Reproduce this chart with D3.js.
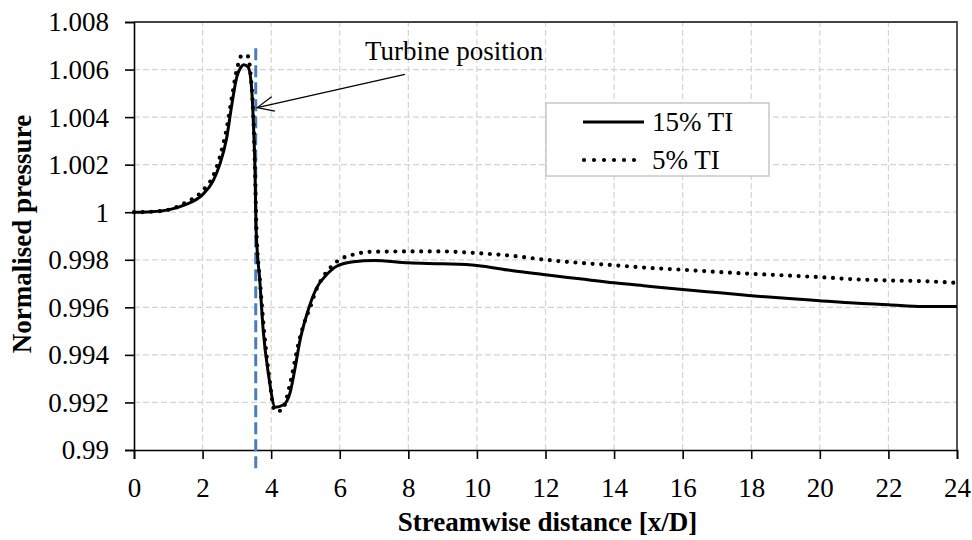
<!DOCTYPE html>
<html>
<head>
<meta charset="utf-8">
<script src="https://cdn.jsdelivr.net/npm/d3@7"></script>
<style>
  html, body { margin: 0; padding: 0; background: #fff; }
  svg { display: block; }
</style>
</head>
<body>
<svg id="chart" width="972" height="540"></svg>
<script>
// Streamwise distance [x/D] and normalised pressure, 15% turbulence intensity
const xTI15 = [0, 0.5, 1.0, 1.5, 2.0, 2.3, 2.5, 2.7, 2.85, 3.0, 3.12, 3.2, 3.33, 3.43, 3.48, 3.53, 3.56,
  3.67, 3.77, 3.92, 4.12, 4.36, 4.55, 4.7, 4.84, 5.04, 5.33, 5.62, 5.91, 6.4, 7, 8, 9, 10, 11, 12,
  13, 14, 15, 16, 17, 18, 19, 20, 21, 22, 23, 24];
const pTI15 = [1.0000, 1.00002, 1.0001, 1.00032, 1.00074, 1.0013, 1.0020, 1.0031, 1.0045, 1.0057, 1.0061,
  1.0062, 1.0061, 1.0052, 1.0038, 1.0017, 0.9993, 0.9971, 0.9950, 0.9932, 0.9918, 0.9919, 0.9924,
  0.99347, 0.9946, 0.9957, 0.99683, 0.99738, 0.99773, 0.99792, 0.99797, 0.99787, 0.99783, 0.99776,
  0.99755, 0.99737, 0.9972, 0.99703, 0.99689, 0.99675, 0.99662, 0.99649, 0.99638, 0.99628, 0.99618,
  0.99611, 0.99603, 0.99603];

// Same quantity, 5% turbulence intensity
const xTI5 = [0, 0.5, 1.0, 1.5, 2.0, 2.3, 2.5, 2.7, 2.85, 3.0, 3.15, 3.3, 3.4, 3.48, 3.53, 3.57, 3.68,
  3.8, 3.95, 4.1, 4.3, 4.55, 4.8, 5.0, 5.14, 5.28, 5.53, 5.72, 6.0, 6.4, 7, 8, 9, 10, 11, 12, 13, 14,
  15, 16, 17, 18, 19, 20, 21, 22, 23, 24];
const pTI5 = [1.0000, 1.00002, 1.0001, 1.0004, 1.0009, 1.0015, 1.0023, 1.0035, 1.0048, 1.0060, 1.0066,
  1.0066, 1.0058, 1.0040, 1.0017, 0.9993, 0.9970, 0.9949, 0.9930, 0.99165, 0.99165, 0.99277, 0.9945,
  0.9955, 0.9960, 0.99661, 0.99731, 0.99766, 0.99801, 0.99822, 0.99834, 0.99835, 0.99835, 0.99828,
  0.99817, 0.998, 0.99787, 0.99777, 0.99766, 0.99758, 0.99749, 0.99741, 0.99734, 0.99727, 0.99718,
  0.99713, 0.9971, 0.99703];

const xTicks = [0, 2, 4, 6, 8, 10, 12, 14, 16, 18, 20, 22, 24];
const yTicks = [0.99, 0.992, 0.994, 0.996, 0.998, 1, 1.002, 1.004, 1.006, 1.008];
const yTickLabels = ["0.99", "0.992", "0.994", "0.996", "0.998", "1", "1.002", "1.004", "1.006", "1.008"];
const seriesNames = ["15% TI", "5% TI"];
const turbineX = 3.55;

const FONT = "'Liberation Serif', 'Times New Roman', 'DejaVu Serif', serif";

const svg = d3.select("#chart");
const margin = { left: 134, right: 15, top: 22, bottom: 90 };
const W = 972, H = 540;

const x = d3.scaleLinear().domain([0, 24]).range([margin.left, W - margin.right]);
const y = d3.scaleLinear().domain([0.99, 1.008]).range([H - margin.bottom, margin.top]);

// gridlines
const grid = svg.append("g").attr("stroke", "#d4d4d4").attr("stroke-width", 1.2)
  .attr("stroke-dasharray", "6,3");
grid.selectAll("line.v").data(xTicks.slice(1, -1)).join("line")
  .attr("x1", d => x(d)).attr("x2", d => x(d)).attr("y1", y(0.99)).attr("y2", y(1.008));
grid.selectAll("line.h").data(yTicks.slice(1, -1)).join("line")
  .attr("x1", x(0)).attr("x2", x(24)).attr("y1", d => y(d)).attr("y2", d => y(d));

// plot frame (top and right)
svg.append("path")
  .attr("d", `M${x(0)},${y(1.008)}H${x(24)}V${y(0.99)}`)
  .attr("fill", "none").attr("stroke", "#444").attr("stroke-width", 1.8);

// axes
const xAxis = svg.append("g").attr("transform", `translate(0,${y(0.99)})`)
  .call(d3.axisBottom(x).tickValues(xTicks).tickSize(9).tickPadding(19).tickFormat(d3.format("d")));
const yAxis = svg.append("g").attr("transform", `translate(${x(0)},0)`)
  .call(d3.axisLeft(y).tickValues(yTicks).tickSize(9).tickPadding(16)
    .tickFormat((d, i) => yTickLabels[i]));
[xAxis, yAxis].forEach(a => {
  a.attr("font-family", FONT).attr("font-size", 27);
  a.select(".domain").attr("stroke", "#000").attr("stroke-width", 1.6);
  a.selectAll(".tick line").attr("stroke", "#000").attr("stroke-width", 1.6);
  a.selectAll(".tick text").attr("fill", "#000");
});
xAxis.selectAll(".tick text").attr("dy", "0.71em");
yAxis.selectAll(".tick text").attr("dy", "0.33em");

// axis titles
svg.append("text").attr("x", (x(0) + x(24)) / 2 + 2).attr("y", 531)
  .attr("text-anchor", "middle").attr("font-family", FONT).attr("font-weight", "bold")
  .attr("font-size", 27).text("Streamwise distance [x/D]");
svg.append("text").attr("transform", `translate(31,${(y(0.99) + y(1.008)) / 2 - 2}) rotate(-90)`)
  .attr("text-anchor", "middle").attr("font-family", FONT).attr("font-weight", "bold")
  .attr("font-size", 27).text("Normalised pressure");

// turbine position marker
svg.append("line")
  .attr("x1", x(turbineX)).attr("x2", x(turbineX))
  .attr("y1", y(1.0069)).attr("y2", y(0.98915))
  .attr("stroke", "#4a7ebb").attr("stroke-width", 3).attr("stroke-dasharray", "12,5");

// curves
const line = d3.line().x(d => x(d[0])).y(d => y(d[1])).curve(d3.curveMonotoneX);
const solidData = xTI15.map((v, i) => [v, pTI15[i]]);
const dotData = xTI5.map((v, i) => [v, pTI5[i]]);

svg.append("path").datum(dotData).attr("d", line)
  .attr("fill", "none").attr("stroke", "#000").attr("stroke-width", 4.2)
  .attr("stroke-linecap", "round").attr("stroke-dasharray", "0,8.6");
svg.append("path").datum(solidData).attr("d", line)
  .attr("fill", "none").attr("stroke", "#000").attr("stroke-width", 3)
  .attr("stroke-linejoin", "round");

// annotation
const tip = [x(turbineX) + 1.5, y(1.0044)];
const tail = [x(7.9), y(1.0058)];
svg.append("line").attr("x1", tail[0]).attr("y1", tail[1]).attr("x2", tip[0]).attr("y2", tip[1])
  .attr("stroke", "#000").attr("stroke-width", 1.2);
const ang = Math.atan2(tail[1] - tip[1], tail[0] - tip[0]);
const aL = 18, aW = 0.42;
svg.append("path")
  .attr("d", `M${tip[0] + aL * Math.cos(ang - aW)},${tip[1] + aL * Math.sin(ang - aW)}L${tip[0]},${tip[1]}L${tip[0] + aL * Math.cos(ang + aW)},${tip[1] + aL * Math.sin(ang + aW)}`)
  .attr("fill", "none").attr("stroke", "#000").attr("stroke-width", 1.2);
svg.append("text").attr("x", 365).attr("y", 60).attr("font-family", FONT)
  .attr("font-size", 27).text("Turbine position");

// legend
const lg = svg.append("g").attr("transform", "translate(546,103)");
lg.append("rect").attr("width", 223).attr("height", 73)
  .attr("fill", "#fff").attr("stroke", "#c8c8c8").attr("stroke-width", 1.5);
lg.append("line").attr("x1", 37).attr("x2", 98).attr("y1", 19).attr("y2", 19)
  .attr("stroke", "#000").attr("stroke-width", 3);
lg.append("line").attr("x1", 38).attr("x2", 98).attr("y1", 57).attr("y2", 57)
  .attr("stroke", "#000").attr("stroke-width", 4.2).attr("stroke-linecap", "round")
  .attr("stroke-dasharray", "0,10");
lg.selectAll("text.lbl").data(seriesNames).join("text")
  .attr("x", 106).attr("y", (d, i) => 28 + i * 38).attr("font-family", FONT)
  .attr("font-size", 27).text(d => d);
</script>
</body>
</html>
